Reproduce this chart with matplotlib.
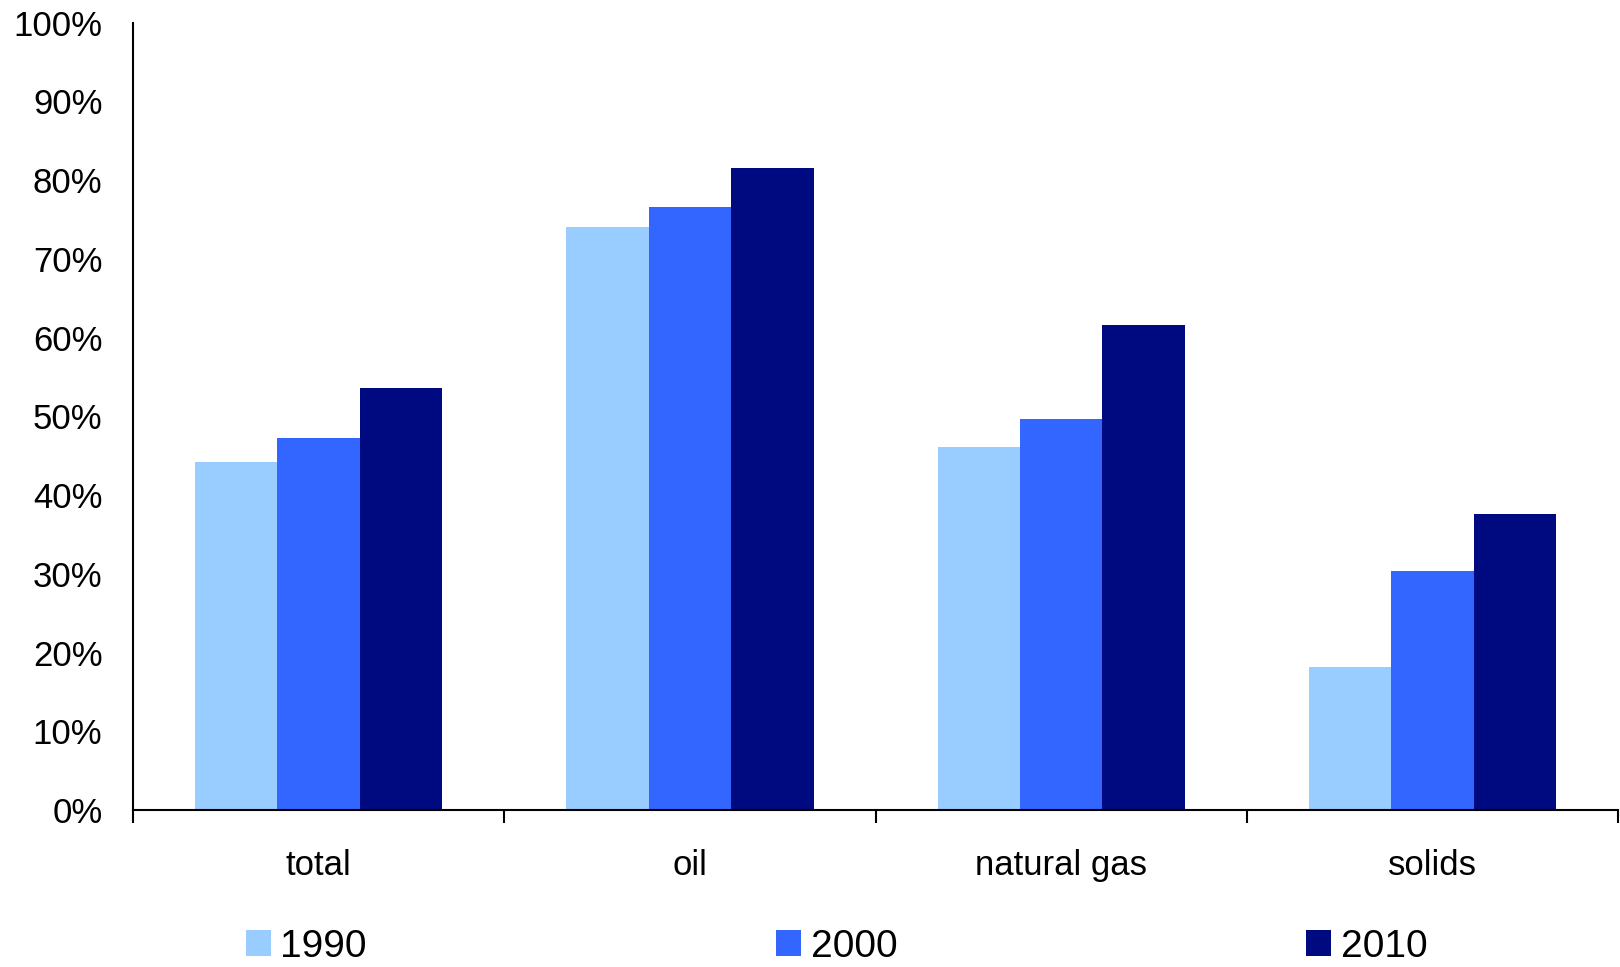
import matplotlib.pyplot as plt
import numpy as np
from matplotlib.ticker import FixedLocator

plt.rcParams['font.family'] = ['Liberation Sans', 'DejaVu Sans']

categories = ['total', 'oil', 'natural gas', 'solids']
years = ['1990', '2000', '2010']
share_1990 = [0.442, 0.741, 0.461, 0.182]
share_2000 = [0.472, 0.766, 0.497, 0.304]
share_2010 = [0.536, 0.816, 0.616, 0.376]
y_ticks = [0, 0.1, 0.2, 0.3, 0.4, 0.5, 0.6, 0.7, 0.8, 0.9, 1.0]
y_labels = ['0%', '10%', '20%', '30%', '40%', '50%', '60%', '70%', '80%', '90%', '100%']

colors = ['#99CCFF', '#3366FF', '#000A80']

fig = plt.figure(figsize=(16.2, 9.67), dpi=100)
ax = fig.add_axes([0.0821, 0.1624, 0.9167, 0.8141])

x = np.arange(len(categories))
width = 0.222
for i, (vals, year) in enumerate(zip([share_1990, share_2000, share_2010], years)):
    ax.bar(x + (i - 1) * width, vals, width, color=colors[i], label=year,
           linewidth=0)

ax.set_xlim(-0.5, len(categories) - 0.5)
ax.set_ylim(0, 1.0)

ax.set_yticks(y_ticks)
ax.set_yticklabels(y_labels)
ax.tick_params(axis='y', length=0, pad=22, labelsize=25)

ax.set_xticks(x)
ax.set_xticklabels(categories)
ax.tick_params(axis='x', which='major', length=0, pad=28, labelsize=25)
# tick marks sit between the categories
ax.xaxis.set_minor_locator(FixedLocator(np.arange(-0.5, len(categories), 1.0)))
ax.tick_params(axis='x', which='minor', length=9, width=1.5, direction='out')

for side in ['top', 'right']:
    ax.spines[side].set_visible(False)
for side in ['left', 'bottom']:
    ax.spines[side].set_linewidth(1.5)

fig.legend(loc='center', bbox_to_anchor=(0.5165, 0.0207), ncol=3, frameon=False,
           fontsize=28, handlelength=0.64, handleheight=0.64, handletextpad=0.25,
           columnspacing=10.52, borderpad=0, borderaxespad=0)

plt.savefig('out.png', dpi=100)
